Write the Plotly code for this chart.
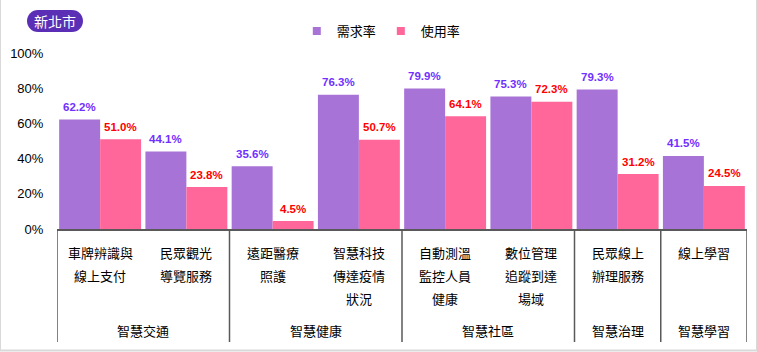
import plotly.graph_objects as go

# ---------------- data ----------------
title_badge = "新北市"
series_names = ["需求率", "使用率"]
groups = ["智慧交通", "智慧交通", "智慧健康", "智慧健康",
          "智慧社區", "智慧社區", "智慧治理", "智慧學習"]
categories = [
    ["車牌辨識與", "線上支付"],
    ["民眾觀光", "導覽服務"],
    ["遠距醫療", "照護"],
    ["智慧科技", "傳達疫情", "狀況"],
    ["自動測溫", "監控人員", "健康"],
    ["數位管理", "追蹤到達", "場域"],
    ["民眾線上", "辦理服務"],
    ["線上學習"],
]
demand = [62.2, 44.1, 35.6, 76.3, 79.9, 75.3, 79.3, 41.5]
usage = [51.0, 23.8, 4.5, 50.7, 64.1, 72.3, 31.2, 24.5]
y_ticks = [0, 20, 40, 60, 80, 100]

# ---------------- style ----------------
C_DEMAND = "#A873D6"
C_USAGE = "#FF6699"
C_DEMAND_TXT = "#7030FF"
C_USAGE_TXT = "#FF0000"
AXIS_C = "#595959"
CJK = "Noto Sans CJK TC, Noto Sans CJK SC, sans-serif"
LAT = "Liberation Sans, Arial, sans-serif"
W, H = 757, 352
ML, MR, MT, MB = 57, 10, 53, 123
BARGAP = 0.05

x = list(range(len(demand)))
fig = go.Figure()
fig.add_trace(go.Bar(x=x, y=demand, name=series_names[0], marker_color=C_DEMAND,
                     marker_line_width=0, showlegend=False, hoverinfo="skip"))
fig.add_trace(go.Bar(x=x, y=usage, name=series_names[1], marker_color=C_USAGE,
                     marker_line_width=0, showlegend=False, hoverinfo="skip"))
# legend entries with small square symbols
for nm, c in zip(series_names, [C_DEMAND, C_USAGE]):
    fig.add_trace(go.Scatter(x=[None], y=[None], mode="markers", name=nm,
                             marker=dict(symbol="square", size=8, color=c)))

annotations = []
half = (1 - BARGAP) / 4
for i in x:
    annotations.append(dict(x=i - half, y=demand[i], xref="x", yref="y",
                            text=f"{demand[i]:.1f}%", showarrow=False,
                            yanchor="middle", yshift=12.5,
                            font=dict(family=LAT, size=11.5, color=C_DEMAND_TXT, weight="bold")))
    annotations.append(dict(x=i + half, y=usage[i], xref="x", yref="y",
                            text=f"{usage[i]:.1f}%", showarrow=False,
                            yanchor="middle", yshift=12.5,
                            font=dict(family=LAT, size=11.5, color=C_USAGE_TXT, weight="bold")))
    for j, line in enumerate(categories[i]):
        annotations.append(dict(x=i, y=0, xref="x", yref="paper", text=line,
                                showarrow=False, yanchor="middle",
                                yshift=-(23.5 + 22.8 * j),
                                font=dict(family=CJK, size=13, color="#000000")))

# group labels & separators
shapes = []
bounds = []
start = 0
for i in range(1, len(groups) + 1):
    if i == len(groups) or groups[i] != groups[start]:
        bounds.append((start, i - 1, groups[start]))
        start = i
sep_x = [-0.5] + [b[1] + 0.5 for b in bounds]
for sx in sep_x:
    shapes.append(dict(type="line", xref="x", yref="paper", ysizemode="pixel",
                       yanchor=0, x0=sx, x1=sx, y0=0, y1=-113,
                       line=dict(color=AXIS_C, width=1.5)))
for s, e, g in bounds:
    annotations.append(dict(x=(s + e) / 2, y=0, xref="x", yref="paper", text=g,
                            showarrow=False, yanchor="middle", yshift=-101,
                            font=dict(family=CJK, size=13, color="#000000")))

# outer light border (left, right, bottom)
pw = W - ML - MR
ph = H - MT - MB
def px2paper_x(p):
    return (p - ML) / pw
def px2paper_y(p):
    return (H - MB - p) / ph
shapes.append(dict(type="line", xref="paper", yref="paper",
                   x0=px2paper_x(0.5), x1=px2paper_x(0.5), y0=px2paper_y(0), y1=px2paper_y(351),
                   line=dict(color="#D9D9D9", width=1)))
shapes.append(dict(type="line", xref="paper", yref="paper",
                   x0=px2paper_x(756.5), x1=px2paper_x(756.5), y0=px2paper_y(0), y1=px2paper_y(351),
                   line=dict(color="#D9D9D9", width=1)))
shapes.append(dict(type="line", xref="paper", yref="paper",
                   x0=px2paper_x(0), x1=px2paper_x(757), y0=px2paper_y(350.5), y1=px2paper_y(350.5),
                   line=dict(color="#D9D9D9", width=2)))

# title badge (rounded pill)
shapes.append(dict(type="path", xref="paper", yref="paper", xsizemode="pixel",
                   ysizemode="pixel", xanchor=0, yanchor=1,
                   path="M -19,43 L 15,43 C 21.1,43 26,38.1 26,32 C 26,25.9 21.1,21 15,21 "
                        "L -19,21 C -25.1,21 -30,25.9 -30,32 C -30,38.1 -25.1,43 -19,43 Z",
                   fillcolor="#5B2EB6", line=dict(width=0)))
annotations.append(dict(x=0, y=1, xref="paper", yref="paper", xshift=-2, yshift=32,
                        text=title_badge, showarrow=False, yanchor="middle", xanchor="center",
                        font=dict(family=CJK, size=14, color="#FFFFFF")))

fig.update_layout(
    width=W, height=H,
    margin=dict(l=ML, r=MR, t=MT, b=MB),
    paper_bgcolor="white", plot_bgcolor="white",
    barmode="group", bargap=BARGAP, bargroupgap=0,
    font=dict(family=CJK, size=13, color="#000000"),
    legend=dict(orientation="h", x=0.47, xanchor="center", y=1.125, yanchor="middle",
                font=dict(family=CJK, size=13), itemwidth=30, bgcolor="rgba(0,0,0,0)"),
    xaxis=dict(range=[-0.5, len(x) - 0.5], showticklabels=False, ticks="",
               showgrid=False, zeroline=False, showline=True, linecolor=AXIS_C, linewidth=1.5),
    yaxis=dict(range=[0, 100], tickvals=y_ticks, ticktext=[f"{v}%" for v in y_ticks],
               showgrid=False, zeroline=False, showline=False,
               ticks="outside", ticklen=10, tickcolor="rgba(0,0,0,0)",
               tickfont=dict(family=LAT, size=13, color="#000000")),
    annotations=annotations, shapes=shapes,
)
fig.write_html("out.html")
